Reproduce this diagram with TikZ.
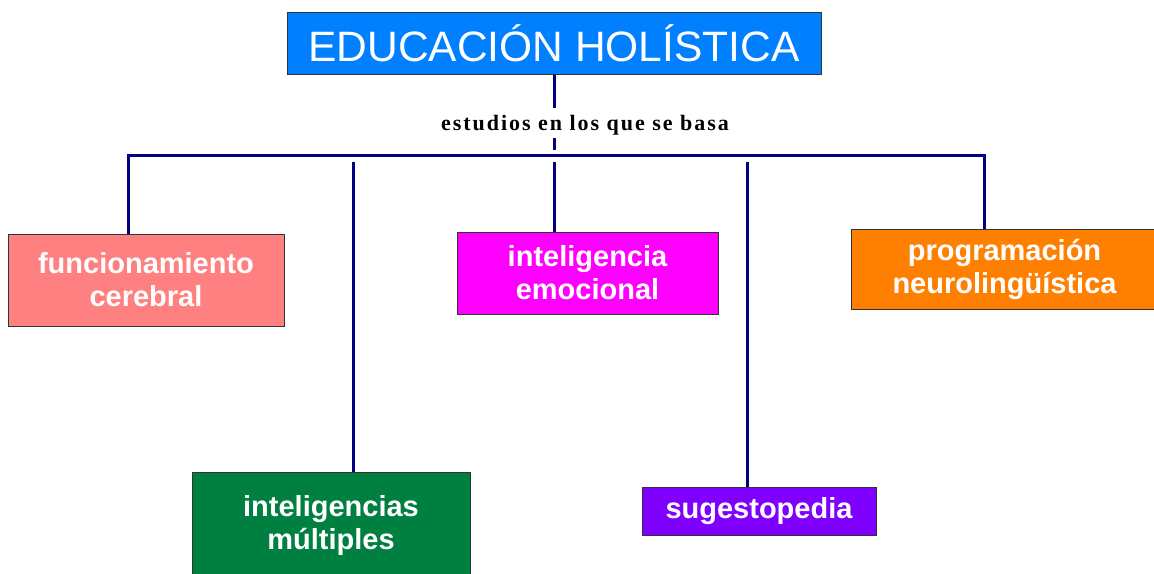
\documentclass[tikz,border=0pt]{standalone}
\usepackage{fontspec}
\setmainfont{Liberation Sans}
\newfontfamily\labelfont[LetterSpace=9]{Liberation Serif}
\definecolor{navy}{RGB}{0,0,128}
\definecolor{topblue}{RGB}{0,128,255}
\definecolor{salmon}{RGB}{255,128,128}
\definecolor{magen}{RGB}{255,0,255}
\definecolor{orng}{RGB}{255,128,0}
\definecolor{grn}{RGB}{0,128,64}
\definecolor{purp}{RGB}{128,0,255}
\begin{document}
\begin{tikzpicture}[x=1pt,y=-1pt,
  box/.style={draw=black!80,line width=1pt,inner sep=0pt,align=center,text=white,
    font=\fontsize{29}{33}\selectfont\bfseries},
  link/.style={draw=navy,line width=3pt}]
\useasboundingbox (0,0) rectangle (1154,573);
\begin{scope}
\clip (0,0) rectangle (1154,573);
\node[box,fill=topblue,minimum width=534pt,minimum height=62pt,
  font=\fontsize{42.5}{46}\selectfont] (top) at (554,43) {EDUCACIÓN HOLÍSTICA};
\node[inner sep=0pt,minimum height=30pt,font=\labelfont\bfseries\fontsize{22}{24}\selectfont] (lab) at (585,125) {estudios en los que se basa};
\node[box,fill=salmon,minimum width=276pt,minimum height=92pt] (fc) at (146,280) {funcionamiento\\cerebral};
\node[box,fill=magen,minimum width=261pt,minimum height=82pt] (ie) at (587.5,273) {inteligencia\\emocional};
\node[box,fill=orng,minimum width=307pt,minimum height=80pt] (pn) at (1004.5,269) {programación\\neurolingüística};
\node[box,fill=grn,minimum width=278pt,minimum height=106pt] (im) at (331,525) {inteligencias\\múltiples};
\node[box,fill=purp,minimum width=234pt,minimum height=48pt] (su) at (759,511) {sugestopedia};
\end{scope}
\coordinate (lo) at (554,108);
\coordinate (li) at (554,138);
\coordinate (le) at (554,150);
\coordinate (bl) at (128,155);
\coordinate (br) at (984,155);
\coordinate (d1) at (353,162);
\coordinate (d2) at (554,162);
\coordinate (d3) at (747,162);
\draw[link] (top.south) -- (lo);
\draw[link] (li) -- (le);
\draw[link] (fc.north -| bl) -- (bl) -- (br) -- (pn.north -| br);
\draw[link] (d1) -- (im.north -| d1);
\draw[link] (d2) -- (ie.north -| d2);
\draw[link] (d3) -- (su.north -| d3);
\end{tikzpicture}
\end{document}
